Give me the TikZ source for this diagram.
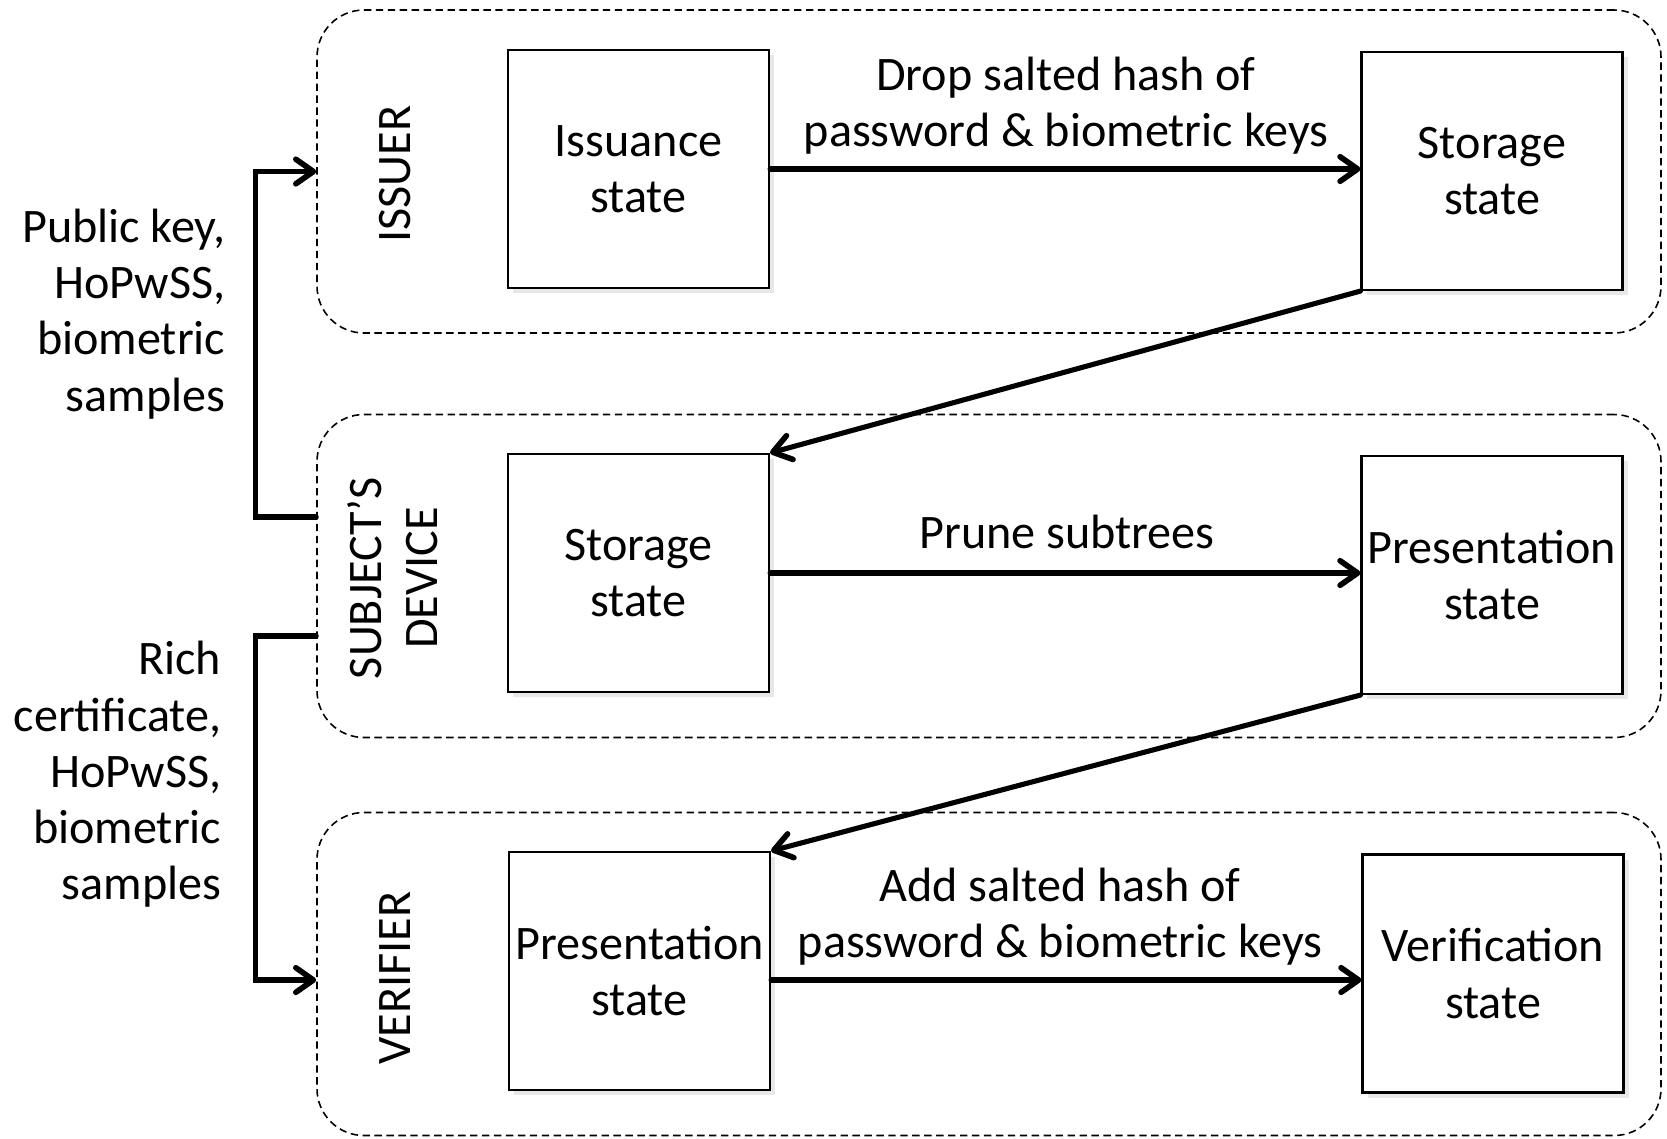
\documentclass[tikz,border=0pt]{standalone}
\usepackage{fontspec}
\setmainfont{Carlito}
\usetikzlibrary{arrows.meta,shadows}
\begin{document}
\begin{tikzpicture}[x=0.1mm,y=-0.1mm,
  font=\fontsize{13.7pt}{16pt}\selectfont,
  container/.style={draw, dashed, dash pattern=on 2.1pt off 1.3pt, line width=0.45pt,
    rounded corners=4.7mm, minimum width=134.4mm, minimum height=32.3mm},
  statebox/.style={draw, line width=0.6pt, fill=white, minimum width=26.1mm, minimum height=23.8mm,
    align=center, inner sep=0pt,
    drop shadow={opacity=0.18, shadow xshift=0.5mm, shadow yshift=-0.5mm}},
  conn/.style={line width=1.45pt, line cap=round, line join=miter,
    -{Straight Barb[length=5pt,width=7pt,line width=1.6pt,round]}},
  lbl/.style={align=center, inner sep=0pt},
  side/.style={align=right, inner sep=0pt, anchor=east},
  role/.style={align=center, inner sep=0pt, rotate=90}]
\useasboundingbox (0,0) rectangle (1667,1138);

% dashed containers for the three parties
\node[container] (issuer) at (989,171.5) {};
\node[container] (subj) at (989,576) {};
\node[container] (verif) at (989,974) {};

% party names
\node[role] (rIss) at (395,174) {ISSUER};
\node[role] (rSub) at (393,578) {SUBJECT’S\\DEVICE};
\node[role] (rVer) at (395,978) {VERIFIER};

% state boxes
\node[statebox] (iss) at (638.5,169) {Issuance\\state};
\node[statebox] (sto1) at (1492,171) {Storage\\state};
\node[statebox] (sto2) at (638.5,573) {Storage\\state};
\node[statebox] (pre1) at (1492,575) {Presentation\\state};
\node[statebox] (pre2) at (639.5,971) {Presentation\\state};
\node[statebox] (ver) at (1493,973.5) {Verification\\state};

% transitions
\draw[conn] (iss.east) -- (iss.east -| sto1.west);
\draw[conn] (sto1.south west) -- (sto2.north east);
\draw[conn] (sto2.east) -- (sto2.east -| pre1.west);
\draw[conn] (pre1.south west) -- (pre2.north east);
\draw[conn] ([yshift=-0.9mm]pre2.east) -- ([yshift=-0.9mm]pre2.east -| ver.west);

% transition labels
\node[lbl] (lDrop) at (1066,106) {Drop salted hash of\\password \& biometric keys};
\node[lbl] (lPrune) at (1067,532) {Prune subtrees};
\node[lbl] (lAdd) at (1060,917) {Add salted hash of\\password \& biometric keys};

% data passed between parties
\draw[conn] ([yshift=5.9mm]subj.west) -- ++(-6.1mm,0) |- (issuer.west);
\draw[conn] ([yshift=-6mm]subj.west) -- ++(-6.1mm,0) |- ([yshift=-0.6mm]verif.west);
\node[side] (dUp) at (226,314) {Public key,\\HoPwSS,\\biometric\\samples};
\node[side] (dDown) at (222,774.5) {Rich\\certificate,\\HoPwSS,\\biometric\\samples};
\end{tikzpicture}
\end{document}
